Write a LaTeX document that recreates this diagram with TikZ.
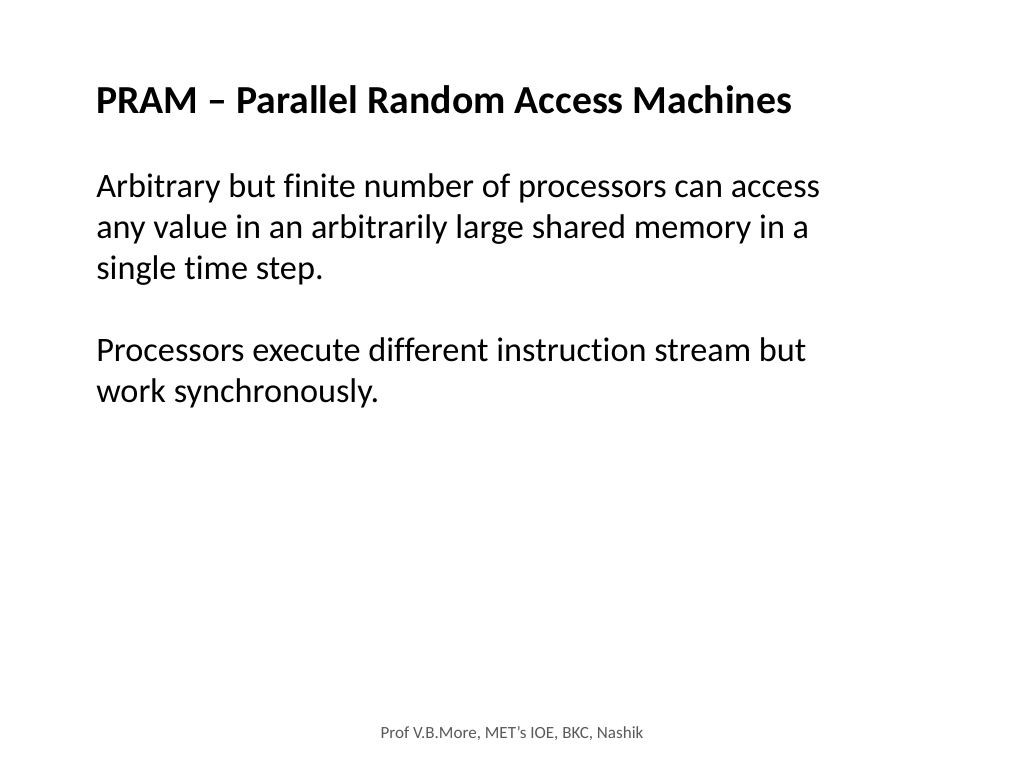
\documentclass[tikz,border=0pt]{standalone}
\usepackage{fontspec}
\setmainfont[Ligatures={NoCommon}]{Carlito}
\begin{document}
\begin{tikzpicture}[x=0.75pt,y=0.75pt,yscale=-1,xscale=1]
\useasboundingbox (0,0) rectangle (1024,768);
\tikzset{bodytext/.style={anchor=base west,inner sep=0pt,font=\fontsize{25.7}{30.75}\selectfont}}

% Title
\node (title) at (96,113) [anchor=base west,inner sep=0pt,font=\fontsize{29.8}{34}\selectfont\bfseries] {PRAM -- Parallel Random Access Machines};
% Text Node
\node (lineA) at (96,197) [bodytext] {Arbitrary but finite number of processors can access};
\node (lineB) at (96,238) [bodytext] {any value in an arbitrarily large shared memory in a};
\node (lineC) at (96,279) [bodytext] {single time step.};
% Text Node
\node (lineD) at (96,361) [bodytext] {Processors execute different instruction stream but};
\node (lineE) at (96,402) [bodytext] {work synchronously.};
% Footer
\node (footer) at (512,738) [anchor=base,inner sep=0pt,font=\fontsize{12.8}{14}\selectfont,color=black!65] {Prof V.B.More, MET\char"27 s IOE, BKC, Nashik};

\end{tikzpicture}
\end{document}
